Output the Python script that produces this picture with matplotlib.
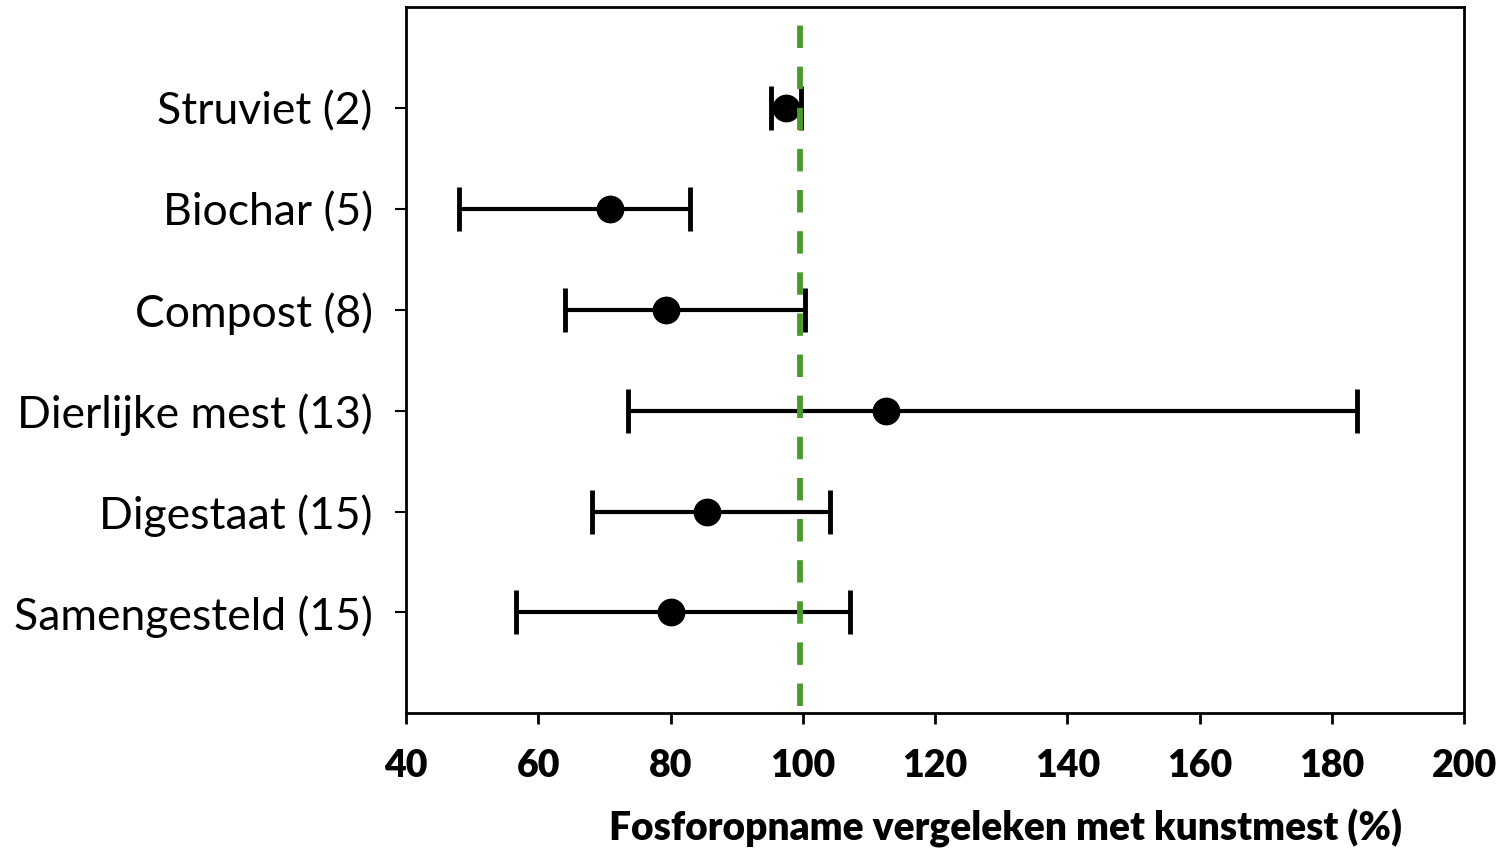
import matplotlib.pyplot as plt

categories = ["Struviet (2)", "Biochar (5)", "Compost (8)", "Dierlijke mest (13)",
              "Digestaat (15)", "Samengesteld (15)"]
means = [97.5, 70.9, 79.3, 112.6, 85.5, 80.1]
lower = [95.2, 48.0, 64.0, 73.6, 68.1, 56.6]
upper = [99.7, 82.9, 100.3, 183.8, 104.1, 107.1]
reference = 99.6
xticks = [40, 60, 80, 100, 120, 140, 160, 180, 200]

plt.rcParams["font.family"] = ["Lato", "DejaVu Sans"]

fig = plt.figure(figsize=(15.09, 8.49), dpi=100)
ax = fig.add_axes([0.2691, 0.1598, 0.9702 - 0.2691, 0.9918 - 0.1598])

ypos = list(range(1, len(categories) + 1))
xerr = [[m - lo for m, lo in zip(means, lower)], [hi - m for m, hi in zip(means, upper)]]
ax.errorbar(means, ypos, xerr=xerr, fmt="o", color="black", markersize=19,
            elinewidth=3, capsize=15.5, capthick=3.5, zorder=2)
ax.axvline(reference, color="#4a9a2e", linestyle=(0, (3.85, 3.2)), linewidth=4.2,
           ymin=0.01, ymax=0.99, zorder=3)

ax.set_xlim(40, 200)
ax.set_ylim(len(categories) + 1, 0)
ax.set_xticks(xticks)
ax.set_xticklabels([str(t) for t in xticks], fontsize=27, fontweight="heavy")
ax.set_yticks(ypos)
ax.set_yticklabels(categories, fontsize=32)
ax.tick_params(axis="x", direction="out", length=8, width=2, pad=18)
ax.tick_params(axis="y", direction="out", length=8, width=1.5, pad=16)
for s in ax.spines.values():
    s.set_linewidth(2)

ax.set_xlabel("Fosforopname vergeleken met kunstmest (%)", fontsize=28,
              fontweight="heavy")
ax.xaxis.set_label_coords(0.567, -0.135)

fig.savefig("out.png", dpi=100)
